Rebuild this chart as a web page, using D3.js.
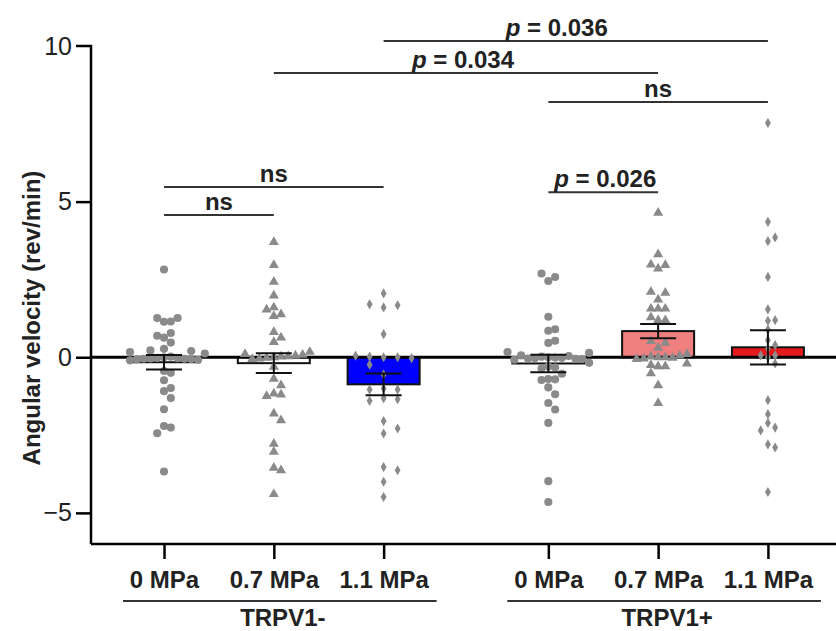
<!DOCTYPE html>
<html>
<head>
<meta charset="utf-8">
<script src="https://cdn.jsdelivr.net/npm/d3@7"></script>
<style>
  body { margin: 0; background: #fff; }
  text { font-family: "Liberation Sans", Arial, sans-serif; }
</style>
</head>
<body>
<div class="chart"></div>
<script>
// data
var groups = ["TRPV1-", "TRPV1+"];
var doses = ["0 MPa", "0.7 MPa", "1.1 MPa", "0 MPa", "0.7 MPa", "1.1 MPa"];
var slots = [0, 1, 2, 3.5, 4.5, 5.5];

var neg0 = [2.82, 1.26, 1.26, 1.15, 1.14, 0.78, 0.69, 0.63, 0.47, 0.27, 0.22, 0.2, 0.17, 0.12,
  0.02, 0.0, -0.02, -0.03, -0.04, -0.05, -0.05, -0.06, -0.07, -0.08, -0.1,
  -0.44, -0.5, -0.74, -0.99, -1.09, -1.31, -1.67, -2.21, -2.26, -2.44, -3.67];
var neg07 = [3.7, 2.96, 2.42, 1.98, 1.6, 1.53, 1.38, 1.32, 0.81, 0.63, 0.49, 0.17, 0.1, 0.08,
  0.05, 0.03, 0.02, 0.0, -0.02, -0.04, -0.06, -0.31, -0.69, -0.9, -1.17, -1.2, -1.25,
  -1.81, -2.03, -2.78, -3.04, -3.55, -3.63, -4.4];
var neg11 = [2.05, 1.7, 1.67, 1.6, 0.74, 0.05, 0.02, 0.0, 0.0, -0.03, -0.24, -0.56, -1.0,
  -1.04, -1.04, -1.32, -1.35, -1.4, -2.05, -2.29, -2.45, -3.53, -3.63, -4.0, -4.49];
var pos0 = [2.69, 2.58, 2.45, 1.3, 0.9, 0.85, 0.53, 0.46, 0.17, 0.14, 0.06, 0.04, 0.02, 0.0,
  -0.01, -0.02, -0.03, -0.04, -0.05, -0.06, -0.08, -0.18, -0.3, -0.33, -0.36, -0.53,
  -0.7, -0.71, -0.73, -0.97, -1.19, -1.47, -1.68, -2.11, -3.98, -4.65];
var pos07 = [4.64, 3.31, 2.98, 2.96, 2.85, 2.1, 2.07, 1.85, 1.56, 1.56, 1.56, 1.28, 1.19, 1.19,
  0.52, 0.46, 0.3, 0.1, 0.05, 0.02, 0.0, 0.0, -0.02, -0.04, -0.06, -0.2, -0.25, -0.29,
  -0.29, -0.52, -0.9, -1.47];
var pos11 = [7.53, 4.35, 3.85, 3.73, 2.58, 1.54, 1.19, 1.17, 0.89, 0.55, 0.39, 0.28, 0.06,
  0.06, 0.0, -0.2, -1.38, -1.83, -2.11, -2.26, -2.35, -2.8, -2.9, -4.33];
var points = [neg0, neg07, neg11, pos0, pos07, pos11];

var means = [-0.16, -0.19, -0.87, -0.2, 0.84, 0.32];
var sems = [0.23, 0.32, 0.35, 0.28, 0.23, 0.55];

// significance brackets: from slot, to slot, height (data units), label
var bracketFrom = [0, 0, 3, 3, 1, 2];
var bracketTo = [1, 2, 4, 5, 4, 5];
var bracketY = [4.57, 5.47, 5.3, 8.2, 9.13, 10.16];
var bracketP = ["ns", "ns", "0.026", "ns", "0.034", "0.036"];

// styles
var fills = ["#fff", "#fff", "#0000ff", "#fff", "#f08080", "#e41a1c"];
var shapes = [d3.symbolCircle, d3.symbolTriangle, d3.symbolDiamond,
  d3.symbolCircle, d3.symbolTriangle, d3.symbolDiamond];
var shapeSize = [52, 44, 30, 52, 44, 30];
var swarmStep = [6.8, 7.2, 14, 6.8, 7.2, 7.2];

var svgWidth = 836;
var svgHeight = 631;
var labelFont = 24;

var svg = d3.select(".chart")
  .append("svg")
  .attr("width", svgWidth)
  .attr("height", svgHeight);

var x = d3.scaleLinear().domain([-0.665, 6.12]).range([91, 836]);
var y = d3.scaleLinear().domain([-6, 10]).range([544, 46]);
var barW = 72;
var capW = 36;

// y axis
var yAxis = svg.append("g")
  .attr("transform", "translate(91,0)")
  .call(d3.axisLeft(y).tickValues([-5, 0, 5, 10]).tickSize(15).tickPadding(4));
yAxis.select(".domain").attr("d", `M0,${y(-6)}V${y(10)}H-15`).attr("stroke-width", 2.5);
yAxis.selectAll(".tick").filter(d => d === 10).select("line").remove();
yAxis.selectAll(".tick line").attr("stroke-width", 2.5);
yAxis.selectAll(".tick text")
  .attr("font-size", 25)
  .attr("fill", "#222")
  .attr("font-family", "Liberation Sans, Arial, sans-serif");

// x axis
var xAxis = svg.append("g")
  .attr("transform", `translate(0,${y(-6)})`)
  .call(d3.axisBottom(x).tickValues(slots).tickSize(15).tickFormat((d, i) => doses[i]).tickPadding(12));
xAxis.select(".domain").attr("d", "M91,0H836").attr("stroke-width", 2.5);
xAxis.selectAll(".tick line").attr("stroke-width", 2.5);
xAxis.selectAll(".tick text")
  .attr("font-size", labelFont)
  .attr("font-weight", "bold")
  .attr("fill", "#222")
  .attr("font-family", "Liberation Sans, Arial, sans-serif");

// group labels under the doses
groups.forEach(function (g, i) {
  var x0 = x(slots[i * 3]) - 41;
  var x1 = x(slots[i * 3 + 2]) + 53;
  svg.append("line")
    .attr("x1", x0).attr("x2", x1)
    .attr("y1", 601).attr("y2", 601)
    .attr("stroke", "#333").attr("stroke-width", 2);
  svg.append("text")
    .attr("x", (x0 + x1) / 2 + 3)
    .attr("y", 626)
    .attr("text-anchor", "middle")
    .attr("font-size", labelFont)
    .attr("font-weight", "bold")
    .attr("fill", "#222")
    .text(g);
});

// y label
svg.append("text")
  .attr("transform", "translate(40,318) rotate(-90)")
  .attr("text-anchor", "middle")
  .attr("font-size", labelFont)
  .attr("font-weight", "bold")
  .attr("fill", "#222")
  .text("Angular velocity (rev/min)");

// bars
svg.selectAll(".bar")
  .data(means)
  .enter()
  .append("rect")
  .attr("class", "bar")
  .attr("x", (d, i) => x(slots[i]) - barW / 2)
  .attr("y", d => y(Math.max(0, d)))
  .attr("width", barW)
  .attr("height", d => Math.abs(y(d) - y(0)))
  .attr("fill", (d, i) => fills[i])
  .attr("stroke", "#111")
  .attr("stroke-width", 2);

// zero line
svg.append("line")
  .attr("x1", 91).attr("x2", 836)
  .attr("y1", y(0)).attr("y2", y(0))
  .attr("stroke", "#000").attr("stroke-width", 3);

// simple column swarm so the dots do not sit on each other
function swarm(values, step) {
  var placed = [];
  var sorted = values.slice().sort((a, b) => Math.abs(a) - Math.abs(b));
  return sorted.map(function (v) {
    var py = y(v);
    var col = 0;
    for (var k = 0; k < 40; k++) {
      var c = k === 0 ? 0 : (k % 2 ? (k + 1) / 2 : -k / 2);
      var hit = placed.some(p => p.col === c && Math.abs(p.y - py) < 8);
      if (!hit) { col = c; break; }
    }
    placed.push({ col: col, y: py });
    return { value: v, dx: col * step };
  });
}

points.forEach(function (vals, i) {
  var sym = d3.symbol().type(shapes[i]).size(shapeSize[i]);
  svg.append("g")
    .selectAll("path")
    .data(swarm(vals, swarmStep[i]))
    .enter()
    .append("path")
    .attr("d", sym)
    .attr("transform", d => `translate(${x(slots[i]) + d.dx},${y(d.value)})`)
    .attr("fill", "#8a8a8a");
});

// error bars (mean +/- sem)
means.forEach(function (m, i) {
  var cx = x(slots[i]);
  var g = svg.append("g").attr("stroke", "#111").attr("stroke-width", 2);
  g.append("line").attr("x1", cx).attr("x2", cx).attr("y1", y(m + sems[i])).attr("y2", y(m - sems[i]));
  [m + sems[i], m - sems[i]].forEach(function (v) {
    g.append("line").attr("x1", cx - capW / 2).attr("x2", cx + capW / 2).attr("y1", y(v)).attr("y2", y(v));
  });
});

// significance brackets
var textShift = [0, 0, 2, 0, -3, -19];
bracketP.forEach(function (p, i) {
  var x0 = x(slots[bracketFrom[i]]);
  var x1 = x(slots[bracketTo[i]]);
  var by = y(bracketY[i]);
  svg.append("line")
    .attr("x1", x0).attr("x2", x1)
    .attr("y1", by).attr("y2", by)
    .attr("stroke", "#333").attr("stroke-width", 2);
  var t = svg.append("text")
    .attr("x", (x0 + x1) / 2 + textShift[i])
    .attr("y", by - 5)
    .attr("text-anchor", "middle")
    .attr("font-size", labelFont)
    .attr("font-weight", "bold")
    .attr("fill", "#222");
  if (p === "ns") {
    t.text("ns");
  } else {
    t.append("tspan").attr("font-style", "italic").text("p");
    t.append("tspan").text(" = " + p);
  }
});
</script>
</body>
</html>
